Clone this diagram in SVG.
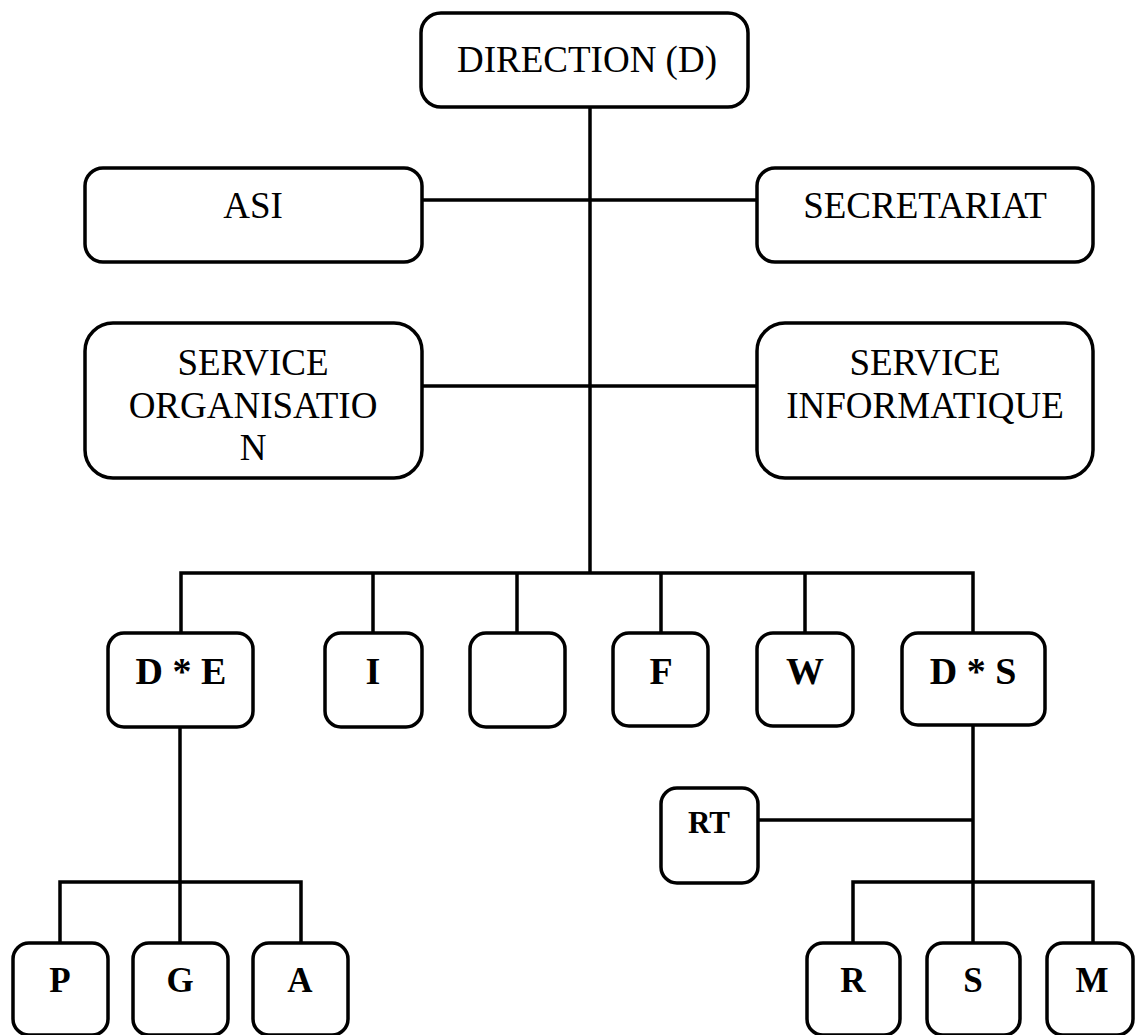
<svg xmlns="http://www.w3.org/2000/svg" width="1135" height="1035" viewBox="0 0 1135 1035">
<style>
.box{fill:#fff;stroke:#000;stroke-width:3.5}
.ln{fill:none;stroke:#000;stroke-width:3.5}
.t{font-family:"Liberation Serif","Times New Roman",serif;font-size:37px;fill:#000;text-anchor:middle}
.b{font-family:"Liberation Serif","Times New Roman",serif;font-weight:bold;font-size:38px;fill:#000;text-anchor:middle}
.s{font-size:35px}
</style>
<rect width="1135" height="1035" fill="#fff"/>
<g id="connectors">
<path class="ln" d="M590 107V573"/>
<path class="ln" d="M422 200H757"/>
<path class="ln" d="M422 386H757"/>
<path class="ln" d="M181 633V573H973V633"/>
<path class="ln" d="M373 573V633M517 573V633M661 573V633M805 573V633"/>
<path class="ln" d="M180 727V943"/>
<path class="ln" d="M60 943V882H301V943"/>
<path class="ln" d="M973 725V943"/>
<path class="ln" d="M758 820H973"/>
<path class="ln" d="M853 943V882H1093V943"/>
</g>
<g id="direction"><rect class="box" x="421" y="13" width="327" height="94" rx="20"/><text class="t" x="587" y="72">DIRECTION (D)</text></g>
<g id="asi"><rect class="box" x="85" y="168" width="337" height="94" rx="18"/><text class="t" x="253" y="218">ASI</text></g>
<g id="secretariat"><rect class="box" x="757" y="168" width="336" height="94" rx="18"/><text class="t" x="925" y="218">SECRETARIAT</text></g>
<g id="service-organisation"><rect class="box" x="85" y="323" width="337" height="155" rx="28"/><text class="t" x="253" y="375">SERVICE</text><text class="t" x="253" y="418">ORGANISATIO</text><text class="t" x="253" y="460">N</text></g>
<g id="service-informatique"><rect class="box" x="757" y="323" width="336" height="155" rx="28"/><text class="t" x="925" y="375">SERVICE</text><text class="t" x="925" y="418">INFORMATIQUE</text></g>
<g id="de"><rect class="box" x="108" y="633" width="145" height="94" rx="16"/><text class="b" x="181" y="684">D * E</text></g>
<g id="i"><rect class="box" x="325" y="633" width="97" height="94" rx="16"/><text class="b" x="373" y="684">I</text></g>
<g id="empty"><rect class="box" x="470" y="633" width="95" height="94" rx="16"/></g>
<g id="f"><rect class="box" x="613" y="633" width="95" height="93" rx="16"/><text class="b" x="661" y="684">F</text></g>
<g id="w"><rect class="box" x="757" y="633" width="96" height="93" rx="16"/><text class="b" x="805" y="684">W</text></g>
<g id="ds"><rect class="box" x="902" y="633" width="143" height="92" rx="16"/><text class="b" x="973" y="684">D * S</text></g>
<g id="rt"><rect class="box" x="661" y="788" width="97" height="95" rx="16"/><text class="b" x="709" y="833" style="font-size:31px">RT</text></g>
<g id="p"><rect class="box" x="13" y="943" width="95" height="92" rx="16"/><text class="b s" x="60" y="992">P</text></g>
<g id="g"><rect class="box" x="133" y="943" width="95" height="92" rx="16"/><text class="b s" x="180" y="992">G</text></g>
<g id="a"><rect class="box" x="253" y="943" width="95" height="92" rx="16"/><text class="b s" x="300" y="992">A</text></g>
<g id="r"><rect class="box" x="807" y="943" width="93" height="92" rx="16"/><text class="b s" x="853" y="992">R</text></g>
<g id="s"><rect class="box" x="927" y="943" width="93" height="92" rx="16"/><text class="b s" x="973" y="992">S</text></g>
<g id="m"><rect class="box" x="1047" y="943" width="86" height="92" rx="16"/><text class="b s" x="1092" y="992">M</text></g>
</svg>
